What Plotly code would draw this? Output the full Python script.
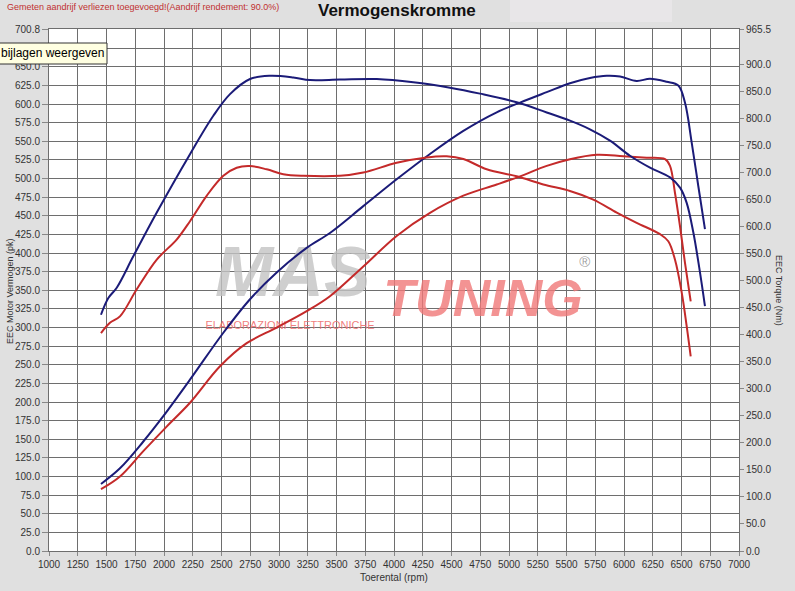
import plotly.graph_objects as go

# ---------------- data ----------------
# Blue (tuned) power, pk  (left axis)
rpm_pow_blue = [1452, 1617, 1820, 1994, 2226, 2516, 2748, 2980, 3241, 3443, 3733, 4023, 4313,
                4603, 4893, 5096, 5328, 5530, 5704, 5850, 5966, 6110, 6226, 6371, 6472, 6530,
                6589, 6646, 6704]
pow_blue = [90, 111, 147, 181, 230, 293, 338, 374, 407, 427, 463, 499, 533,
            564, 589, 602, 616, 628, 635, 638, 637, 631, 634, 630, 625, 602,
            548, 490, 432]

# Blue (tuned) torque, Nm (right axis)
rpm_trq_blue = [1452, 1516, 1589, 1733, 1937, 2226, 2429, 2574, 2748, 2922, 3124, 3270, 3530,
                3850, 4168, 4487, 4748, 5067, 5328, 5530, 5704, 5878, 6052, 6226, 6400,
                6487, 6545, 6603, 6661, 6704]
trq_blue = [437, 468, 487, 545, 626, 734, 805, 845, 873, 879, 876, 871, 872,
            873, 867, 857, 846, 830, 811, 796, 780, 759, 731, 709, 691,
            672, 644, 589, 515, 453]

# Red (stock) power, pk (left axis)
rpm_pow_red = [1452, 1617, 1820, 2023, 2226, 2487, 2719, 2980, 3241, 3443, 3733, 4023, 4313,
               4603, 4893, 5096, 5328, 5530, 5763, 5994, 6197, 6357, 6400, 6443, 6487,
               6530, 6580]
pow_red = [83, 100, 134, 167, 199, 248, 279, 300, 322, 342, 382, 423, 454,
           477, 492, 503, 517, 526, 532, 530, 528, 526, 517, 481, 436,
           387, 335]

# Red (stock) torque, Nm (right axis)
rpm_trq_red = [1452, 1530, 1617, 1763, 1937, 2110, 2226, 2371, 2516, 2632, 2748, 2893, 3037,
               3211, 3530, 3733, 4023, 4284, 4458, 4603, 4806, 5067, 5298, 5530, 5733,
               5937, 6110, 6313, 6385, 6443, 6502, 6545, 6580]
trq_red = [403, 422, 434, 484, 539, 576, 610, 657, 694, 709, 712, 706, 697,
           694, 694, 700, 718, 728, 730, 725, 706, 693, 678, 666, 650,
           626, 607, 586, 573, 539, 478, 416, 360]

x_ticks = list(range(1000, 7001, 250))
y_ticks = [v * 25 for v in range(28)] + [700.8]
y_ticktext = [f"{v:.1f}" if v != 675 else "" for v in y_ticks]  # 675.0 is hidden behind the tooltip
y2_ticks = [v * 50 for v in range(19)] + [965.5]

BLUE = "#1b1b78"
RED = "#c42a2a"
FONT = "Liberation Sans, Arial, sans-serif"

fig = go.Figure()

# ---------- watermark (drawn first so the curves sit on top) ----------
fig.add_trace(go.Scatter(x=[3120], y=[366], mode="text", text=["MAS"],
                         textfont=dict(family=FONT, size=70, color="rgba(195,195,195,0.8)",
                                       weight="bold", style="italic"),
                         hoverinfo="skip", showlegend=False))
fig.add_trace(go.Scatter(x=[4774], y=[333], mode="text", text=["TUNING"],
                         textfont=dict(family=FONT, size=52, color="rgba(240,120,120,0.8)",
                                       weight="bold", style="italic"),
                         hoverinfo="skip", showlegend=False))
fig.add_trace(go.Scatter(x=[3096], y=[302], mode="text", text=["ELABORAZIONI ELETTRONICHE"],
                         textfont=dict(family=FONT, size=11, color="rgba(238,110,110,0.9)"),
                         hoverinfo="skip", showlegend=False))
fig.add_trace(go.Scatter(x=[5660], y=[386], mode="text", text=["®"],
                         textfont=dict(family=FONT, size=15, color="rgba(150,150,150,0.9)"),
                         hoverinfo="skip", showlegend=False))

# ---------- curves ----------
fig.add_trace(go.Scatter(x=rpm_pow_red, y=pow_red, mode="lines", line=dict(color=RED, width=2, shape="spline"),
                         name="Vermogen origineel", showlegend=False))
fig.add_trace(go.Scatter(x=rpm_pow_blue, y=pow_blue, mode="lines", line=dict(color=BLUE, width=2, shape="spline"),
                         name="Vermogen getuned", showlegend=False))
fig.add_trace(go.Scatter(x=rpm_trq_red, y=trq_red, mode="lines", yaxis="y2",
                         line=dict(color=RED, width=2, shape="spline"),
                         name="Koppel origineel", showlegend=False))
fig.add_trace(go.Scatter(x=rpm_trq_blue, y=trq_blue, mode="lines", yaxis="y2",
                         line=dict(color=BLUE, width=2, shape="spline"),
                         name="Koppel getuned", showlegend=False))

W, H = 795, 591
L, R, T, B = 49, 56, 29, 40
pw, ph = W - L - R, H - T - B


def px(xp):
    return (xp - L) / pw


def py(yp):
    return (H - B - yp) / ph


def note(text, x, y, size, color, xanchor="center", angle=0):
    return dict(text=text, xref="paper", yref="paper", x=px(x), y=py(y),
                xanchor=xanchor, yanchor="middle", textangle=angle, showarrow=False,
                font=dict(size=size, color=color))


fig.update_layout(
    width=W, height=H,
    margin=dict(l=L, r=R, t=T, b=B, pad=0),
    paper_bgcolor="#e0e0e0",
    plot_bgcolor="#ffffff",
    font=dict(family=FONT, size=10, color="#333333"),
    showlegend=False,
    xaxis=dict(range=[1000, 7000], tickvals=x_ticks, ticktext=[str(v) for v in x_ticks],
               showgrid=True, gridcolor="#6e6e6e", gridwidth=1,
               ticks="outside", ticklen=4, tickcolor="#888888",
               showline=True, linecolor="#6e6e6e", mirror=True, zeroline=False,
               tickfont=dict(size=10, color="#333333")),
    yaxis=dict(range=[0, 700.8], tickvals=y_ticks, ticktext=y_ticktext,
               showgrid=True, gridcolor="#6e6e6e", gridwidth=1,
               ticks="outside", ticklen=6, tickcolor="#888888",
               showline=True, linecolor="#6e6e6e", zeroline=False,
               tickfont=dict(size=10, color="#333333")),
    yaxis2=dict(range=[0, 965.5], tickvals=y2_ticks, ticktext=[f"{v:.1f}" for v in y2_ticks],
                overlaying="y", side="right", showgrid=False, zeroline=False,
                ticks="outside", ticklen=4, tickcolor="#888888",
                showline=True, linecolor="#6e6e6e",
                tickfont=dict(size=10, color="#333333")),
    shapes=[
        # lighter box in the header
        dict(type="rect", xref="paper", yref="paper", x0=px(510), x1=px(672), y0=py(22), y1=py(0),
             fillcolor="#e8e6e8", line=dict(width=0), layer="below"),
        # tooltip box
        dict(type="rect", xref="paper", yref="paper", x0=px(-2), x1=px(107), y0=py(64), y1=py(43),
             fillcolor="#ffffe1", line=dict(color="#333333", width=1), layer="above"),
    ],
    annotations=[
        note("<b>Vermogenskromme</b>", 397, 11, 17, "#111111"),
        note("Gemeten aandrijf verliezen toegevoegd!(Aandrijf rendement: 90.0%)", 5, 7, 9,
             "#c03030", xanchor="left"),
        note("bijlagen weergeven", -1, 53.5, 12, "#000000", xanchor="left"),
        note("EEC Motor Vermogen (pk)", 10, 291, 9, "#333333", angle=-90),
        note("EEC Torque (Nm)", 779, 290, 9, "#333333", angle=90),
        note("Toerental (rpm)", 394, 577, 10, "#333333"),
    ],
)

fig.write_html("out.html", config={"displayModeBar": False},
               post_script="document.body.style.margin='0px';document.body.style.overflow='hidden';")
